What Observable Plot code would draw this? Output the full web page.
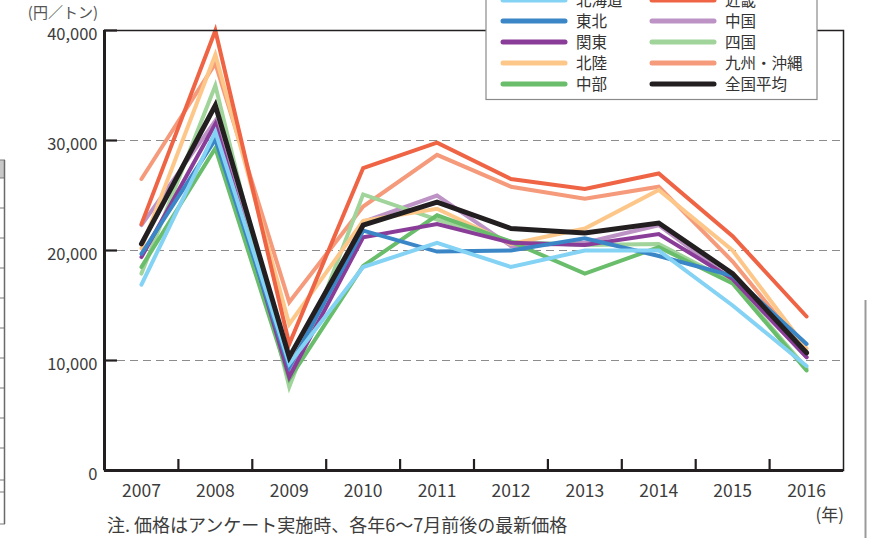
<!DOCTYPE html>
<html>
<head>
<meta charset="utf-8">
<script src="https://cdn.jsdelivr.net/npm/d3@7"></script>
<script src="https://cdn.jsdelivr.net/npm/@observablehq/plot@0.6"></script>
<style>
  html, body { margin: 0; padding: 0; background: #fff; }
  #wrap { position: relative; width: 876px; height: 538px; overflow: hidden; font-family: "Noto Sans CJK JP", "Noto Sans", sans-serif; }
  #overlay { position: absolute; left: 0; top: 0; pointer-events: none; }
</style>
</head>
<body>
<div id="wrap"></div>
<script>
// ---- data ----
const years = [2007, 2008, 2009, 2010, 2011, 2012, 2013, 2014, 2015, 2016];
const hokkaido = [16900, 30800, 9700, 18500, 20700, 18500, 20000, 20000, 15000, 9500];
const tohoku   = [19700, 30100, 9400, 21800, 19900, 20000, 21100, 19500, 17700, 11500];
const kanto    = [19400, 31500, 8500, 21200, 22400, 20700, 20500, 21500, 17400, 10300];
const hokuriku = [20200, 37800, 13300, 22700, 23800, 20600, 22000, 25500, 20000, 11100];
const chubu    = [18500, 29300, 8300, 18600, 23200, 20800, 17900, 20300, 17000, 9100];
const kinki    = [22400, 40000, 11500, 27500, 29800, 26500, 25600, 27000, 21300, 14000];
const chugoku  = [22300, 31800, 9000, 22600, 25000, 20400, 20700, 22300, 17300, 10300];
const shikoku  = [17900, 35000, 7600, 25100, 22800, 20800, 20500, 20600, 17100, 9300];
const kyushu   = [26500, 37000, 15300, 24000, 28700, 25800, 24700, 25800, 19000, 10800];
const national = [20600, 33200, 10300, 22300, 24400, 22000, 21600, 22500, 17900, 10700];

const regionNames  = ["北海道", "東北", "関東", "北陸", "中部", "近畿", "中国", "四国", "九州・沖縄", "全国平均"];
const regionColors = ["#84d2f4", "#3a86c6", "#8a3d98", "#fdc78a", "#69bd6b", "#ee6444", "#bd93c6", "#a0d49a", "#f59a7b", "#231f20"];
const seriesValues = [hokkaido, tohoku, kanto, hokuriku, chubu, kinki, chugoku, shikoku, kyushu, national];
// drawing order (bottom to top)
const drawOrder = ["九州・沖縄", "中国", "四国", "北陸", "中部", "関東", "東北", "北海道", "近畿", "全国平均"];

const yLabelTicks = [0, 10000, 20000, 30000, 40000];
const yInnerTicks = [10000, 20000, 30000, 40000];
const gridTicks = [10000, 20000, 30000];
const xBoundaries = [2007.5, 2008.5, 2009.5, 2010.5, 2011.5, 2012.5, 2013.5, 2014.5, 2015.5];

const unitLabel = "(円／トン)";
const yearLabel = "(年)";
const noteText = "注. 価格はアンケート実施時、各年6〜7月前後の最新価格";

// ---- table ----
const rows = [];
for (const name of drawOrder) {
  const i = regionNames.indexOf(name);
  years.forEach((yr, j) => rows.push({region: name, year: yr, value: seriesValues[i][j]}));
}
const regionRows = rows.filter(d => d.region !== "全国平均");
const nationalRows = rows.filter(d => d.region === "全国平均");

const ink = "#231f20";
const txt = "#3c3c3c";
const plot = Plot.plot({
  width: 876,
  height: 538,
  marginLeft: 104,
  marginRight: 33,
  marginTop: 30,
  marginBottom: 68,
  x: {type: "linear", domain: [2006.5, 2016.5], axis: null, label: null},
  y: {domain: [0, 40000], axis: null, label: null},
  color: {domain: regionNames, range: regionColors},
  style: {fontFamily: '"Noto Sans CJK JP", "Noto Sans", sans-serif', fontSize: "16px", color: txt, background: "#fff"},
  marks: [
    Plot.gridY(gridTicks, {stroke: "#8c8c8c", strokeOpacity: 1, strokeWidth: 1.2, strokeDasharray: "8,5"}),
    Plot.line(regionRows, {x: "year", y: "value", z: "region", stroke: "region", strokeWidth: 4, strokeLinejoin: "miter", strokeLinecap: "round", strokeMiterlimit: 10}),
    Plot.line(nationalRows, {x: "year", y: "value", z: "region", stroke: "region", strokeWidth: 5, strokeLinejoin: "miter", strokeLinecap: "round", strokeMiterlimit: 10}),
    Plot.frame({stroke: ink, strokeWidth: 1.5}),
    Plot.ruleX([2006.5], {stroke: ink, strokeWidth: 3}),
    Plot.ruleY([0], {stroke: ink, strokeWidth: 3}),
    Plot.axisY(yLabelTicks, {anchor: "left", tickSize: 0, tickPadding: 7, dy: 4, tickFormat: d3.format(","), fontSize: 16.5, fill: txt}),
    Plot.axisY(yInnerTicks, {anchor: "left", tickSize: -13, tickFormat: () => "", stroke: ink, strokeWidth: 2.2}),
    Plot.axisX(years, {anchor: "bottom", tickSize: 0, tickPadding: 14, tickFormat: d => String(d), fontSize: 17.5, fill: txt}),
    Plot.axisX(xBoundaries, {anchor: "bottom", tickSize: -11, tickFormat: () => "", stroke: ink, strokeWidth: 2.2})
  ]
});

const wrap = document.getElementById("wrap");
wrap.appendChild(plot);

// ---- overlay: legend and annotations ----
const svg = d3.select(wrap).append("svg")
  .attr("id", "overlay").attr("width", 876).attr("height", 538)
  .style("font-family", '"Noto Sans CJK JP", "Noto Sans", sans-serif');

// partial neighbouring table at the left edge
const tbl = svg.append("g");
tbl.append("rect").attr("x", -10).attr("y", 160).attr("width", 14).attr("height", 18).attr("fill", "#c8c8c8");
[160, 178, 208, 238, 268, 298, 328, 358, 388, 418, 448, 480, 492, 524].forEach(y =>
  tbl.append("line").attr("x1", -10).attr("x2", 5).attr("y1", y).attr("y2", y).attr("stroke", "#7a7a7a").attr("stroke-width", 1));
tbl.append("line").attr("x1", 4.5).attr("x2", 4.5).attr("y1", 160).attr("y2", 524).attr("stroke", "#6a6a6a").attr("stroke-width", 1.5);
svg.append("line").attr("x1", 865.5).attr("x2", 865.5).attr("y1", 300).attr("y2", 538).attr("stroke", "#9a9a9a").attr("stroke-width", 2);

// unit label, year label, note
svg.append("text").attr("x", 98).attr("y", 18).attr("text-anchor", "end").attr("font-size", 15).attr("fill", "#555").text(unitLabel);
svg.append("text").attr("x", 844).attr("y", 521).attr("text-anchor", "end").attr("font-size", 17).attr("fill", txt).text(yearLabel);
svg.append("text").attr("x", 107).attr("y", 532).attr("font-size", 18).attr("fill", txt).text(noteText);

// legend
const lg = svg.append("g");
lg.append("rect").attr("x", 486).attr("y", -10).attr("width", 331).attr("height", 109.5)
  .attr("fill", "#fff").attr("stroke", "#8a8a8a").attr("stroke-width", 1.2);
regionNames.forEach((name, i) => {
  const col = i < 5 ? 0 : 1;
  const row = i % 5;
  const y = 0 + row * 21;
  const x0 = col === 0 ? 503 : 652;
  lg.append("line").attr("x1", x0).attr("x2", x0 + 62).attr("y1", y).attr("y2", y)
    .attr("stroke", regionColors[i]).attr("stroke-width", 5).attr("stroke-linecap", "round");
  lg.append("text").attr("x", x0 + 73).attr("y", y).attr("dy", "0.36em").attr("font-size", 15.5)
    .attr("fill", "#333").text(name);
});
</script>
</body>
</html>
